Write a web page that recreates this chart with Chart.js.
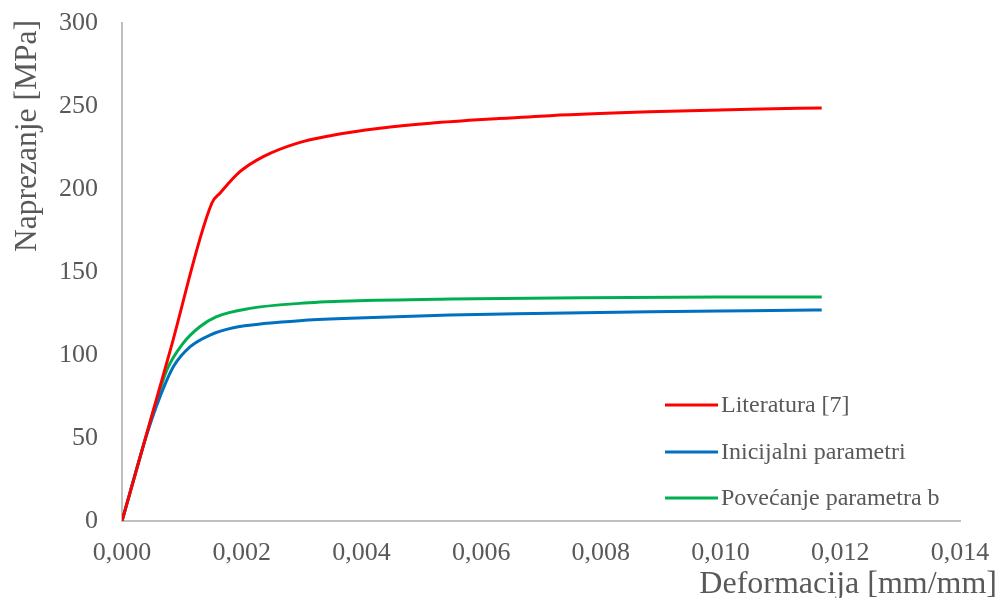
<!DOCTYPE html>
<html>
<head>
<meta charset="utf-8">
<script src="https://cdn.jsdelivr.net/npm/chart.js@4.4.1/dist/chart.umd.min.js"></script>
<style>
  html, body { margin: 0; padding: 0; background: #ffffff; }
  #wrap { width: 999px; height: 598px; position: relative; }
</style>
</head>
<body>
<div id="wrap"><canvas id="c" width="999" height="598"></canvas></div>
<script>
// ---- data ----
const seriesNames = ["Literatura [7]", "Inicijalni parametri", "Povećanje parametra b"];
const seriesColors = ["#FF0000", "#0070C0", "#00B050"];

const literaturaStrain = [0, 0.0008, 0.0015, 0.00164, 0.00197, 0.00236, 0.00292, 0.00348, 0.00431, 0.00515, 0.00629, 0.00715, 0.00882, 0.01049, 0.01169];
const literaturaStress = [0, 102, 191.4, 197.6, 210.4, 219.5, 227.5, 232.1, 236.6, 239.6, 242.4, 244.2, 246.5, 248.1, 248.8];

const inicijalniStrain = [0, 0.0004, 0.00061, 0.00086, 0.00114, 0.00147, 0.00186, 0.00242, 0.00297, 0.00381, 0.00548, 0.00715, 0.00882, 0.01049, 0.01169];
const inicijalniStress = [0, 50.5, 72.5, 93.0, 105.0, 112.0, 116.4, 119.1, 120.7, 122.1, 124.1, 125.1, 126.1, 126.7, 127.1];

const povecanjeStrain = [0, 0.0004, 0.00057, 0.00075, 0.00102, 0.0013, 0.00158, 0.00214, 0.00297, 0.00381, 0.00548, 0.00771, 0.00994, 0.01169];
const povecanjeStress = [0, 50.8, 71.5, 91.0, 107.0, 117.0, 123.1, 128.1, 131.1, 132.5, 133.7, 134.5, 134.9, 134.9];

const xTickMin = 0, xTickMax = 0.014, xTickStep = 0.002;
const yTickMin = 0, yTickMax = 300, yTickStep = 50;

const xTitle = "Deformacija [mm/mm]";
const yTitle = "Naprezanje [MPa]";

function toPoints(xs, ys) { return xs.map((x, i) => ({ x: x, y: ys[i] })); }

const FONT = "'Liberation Serif', 'Times New Roman', serif";
const TEXT = "#595959";
const AXIS = "#BFBFBF";

const datasets = [
  toPoints(literaturaStrain, literaturaStress),
  toPoints(inicijalniStrain, inicijalniStress),
  toPoints(povecanjeStrain, povecanjeStress)
].map((pts, i) => ({
  label: seriesNames[i],
  data: pts,
  borderColor: seriesColors[i],
  backgroundColor: seriesColors[i],
  borderWidth: 3,
  pointRadius: 0,
  fill: false,
  cubicInterpolationMode: 'monotone'
}));

// custom titles & legend plugin
const decor = {
  id: 'decor',
  afterDraw(chart) {
    const ctx = chart.ctx;
    const a = chart.chartArea;
    ctx.save();
    ctx.fillStyle = TEXT;
    // x title
    ctx.font = "32px " + FONT;
    ctx.textAlign = "right";
    ctx.textBaseline = "middle";
    ctx.fillText(xTitle, a.right + 37, 585);
    // y title
    ctx.save();
    ctx.font = "31.5px " + FONT;
    ctx.translate(28, a.top + 113);
    ctx.rotate(-Math.PI / 2);
    ctx.textAlign = "center";
    ctx.textBaseline = "middle";
    ctx.fillText(yTitle, 0, 0);
    ctx.restore();
    // legend
    ctx.font = "24px " + FONT;
    ctx.textAlign = "left";
    ctx.textBaseline = "middle";
    const lx = a.left + 543;
    const ys = [a.top + 382, a.top + 429, a.top + 475];
    chart.data.datasets.forEach((ds, i) => {
      ctx.strokeStyle = ds.borderColor;
      ctx.lineWidth = 3;
      ctx.beginPath();
      ctx.moveTo(lx, ys[i]);
      ctx.lineTo(lx + 53, ys[i]);
      ctx.stroke();
      ctx.fillStyle = TEXT;
      ctx.fillText(ds.label, lx + 56, ys[i] + 1);
    });
    ctx.restore();
  }
};

function zeroPad(s) { s.paddingTop = 0; s.paddingBottom = 0; s.paddingLeft = 0; s.paddingRight = 0; }

new Chart(document.getElementById('c'), {
  type: 'line',
  data: { datasets: datasets },
  plugins: [decor],
  options: {
    responsive: false,
    animation: false,
    devicePixelRatio: 1,
    layout: { padding: { left: 0, right: 39, top: 23, bottom: 0 } },
    plugins: { legend: { display: false }, tooltip: { enabled: false } },
    scales: {
      x: {
        type: 'linear',
        min: xTickMin, max: xTickMax,
        afterFit(s) { s.height = 77; zeroPad(s); },
        grid: { display: false, drawTicks: false },
        border: { display: true, color: AXIS, width: 2 },
        ticks: {
          stepSize: xTickStep,
          padding: 17,
          color: TEXT,
          font: { family: FONT, size: 26 },
          maxRotation: 0,
          autoSkip: false,
          callback: v => Number(v).toFixed(3).replace('.', ',')
        }
      },
      y: {
        type: 'linear',
        min: yTickMin, max: yTickMax,
        afterFit(s) { s.width = 122; zeroPad(s); },
        grid: { display: false, drawTicks: false },
        border: { display: true, color: AXIS, width: 2 },
        ticks: {
          stepSize: yTickStep,
          padding: 24,
          color: TEXT,
          font: { family: FONT, size: 26 }
        }
      }
    }
  }
});
</script>
</body>
</html>
